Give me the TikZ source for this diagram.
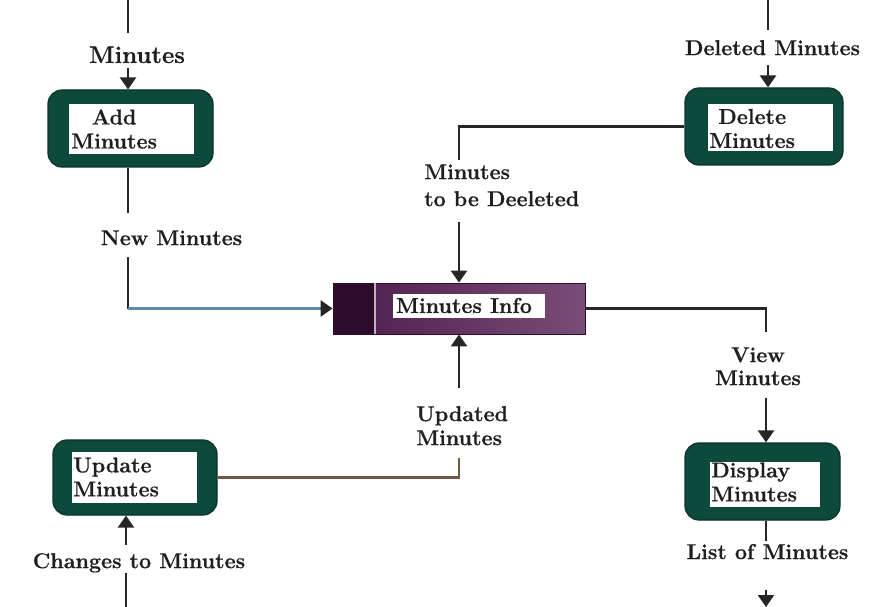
\documentclass[tikz,border=0pt]{standalone}
\usepackage{fontspec}
\setmainfont{Latin Modern Roman}[BoldFeatures={FakeBold=0.6}]
\usetikzlibrary{arrows.meta,calc}

\definecolor{boxgreen}{HTML}{0E4A3C}
\definecolor{boxedge}{HTML}{0A3129}
\definecolor{storeL}{HTML}{2E0D2C}
\definecolor{storeM}{HTML}{4C1C4A}
\definecolor{storeR}{HTML}{7A4C78}
\definecolor{flowline}{HTML}{262626}
\definecolor{flowblue}{HTML}{5E8CAA}
\definecolor{flowtan}{HTML}{6E5A44}

\begin{document}
\begin{tikzpicture}[x=1pt,y=-1pt,
  lbl/.style={font=\fontsize{21.5}{24}\selectfont\bfseries, inner sep=0pt, text=black!88},
  procbox/.style={draw=boxedge, line width=1.2pt, fill=boxgreen, rounded corners=14pt, inner sep=0pt},
  procface/.style={fill=white, inner sep=0pt},
  flow/.style={draw=flowline, line width=2.5pt},
  flowarrow/.style={flow, -{Triangle[length=12pt,width=16pt]}},
]
\useasboundingbox (0,0) rectangle (871,607);
\fill[white] (0,0) rectangle (871,607);

% ---------- processes ----------
\node[procbox, minimum width=165pt, minimum height=77pt] (addM) at (130.5,128.5) {};
\node[procface, minimum width=125pt, minimum height=50pt] (addFace) at (131.5,129) {};
\node[lbl, align=center, anchor=west] (addTxt) at (71,129) {Add\\Minutes};

\node[procbox, minimum width=158pt, minimum height=77pt] (delM) at (764,126.5) {};
\node[procface, minimum width=125pt, minimum height=47pt] (delFace) at (770.5,127.5) {};
\node[lbl, align=center, anchor=west] (delTxt) at (709,128.5) {Delete\\Minutes};

\node[procbox, minimum width=164pt, minimum height=75pt] (updM) at (135,477.5) {};
\node[procface, minimum width=125pt, minimum height=51pt] (updFace) at (134.5,477.5) {};
\node[lbl, align=left, anchor=west] (updTxt) at (73,477) {Update\\Minutes};

\node[procbox, minimum width=155pt, minimum height=77pt] (dispM) at (762.5,481.5) {};
\node[procface, minimum width=110pt, minimum height=45pt] (dispFace) at (765,484.5) {};
\node[lbl, align=left, anchor=west] (dispTxt) at (711,482) {Display\\Minutes};

% ---------- data store ----------
\node[inner sep=0pt, minimum width=252pt, minimum height=51pt,
      left color=storeM, right color=storeR, draw=storeL, line width=0.8pt] (info) at (459,308.5) {};
\fill[storeL] (info.north west) rectangle ($(info.south west)+(42,0)$);
\draw[line width=2pt, draw=storeR!45!white] ($(info.north west)+(42,0)$) -- ($(info.south west)+(42,0)$);
\node[procface, minimum width=152pt, minimum height=24pt] (infoFace) at (469,306) {};
\node[lbl] (infoTxt) at (464,305.5) {Minutes Info};

% ---------- flow labels ----------
\node[lbl, font=\fontsize{24}{28}\selectfont\bfseries] (lblTop) at (137,54.8) {Minutes};
\node[lbl] (lblDel) at (772.5,47.7) {Deleted Minutes};
\node[lbl] (lblNew) at (171.5,237.8) {New Minutes};
\node[lbl, align=left, anchor=west, font=\fontsize{21.5}{27}\selectfont\bfseries] (lblTbd) at (424,185.3) {Minutes\\to be Deeleted};
\node[lbl, align=center, font=\fontsize{21.5}{23}\selectfont\bfseries] (lblView) at (758,366.3) {View\\Minutes};
\node[lbl, align=left, anchor=west] (lblUpd) at (416,425.7) {Updated\\Minutes};
\node[lbl] (lblList) at (767.5,551.6) {List of Minutes};
\node[lbl] (lblChg) at (139,562.8) {Changes to Minutes};

% ---------- free ends ----------
\coordinate (inA) at (128,0);
\coordinate (inD) at (768,0);
\coordinate (inU) at (126,607);
\coordinate (outD) at (766,607);

% ---------- flows ----------
% Minutes -> Add Minutes
\draw[flow, shorten >=13.5pt] (inA) -- (inA |- lblTop.north);
\draw[flowarrow, shorten <=5pt] (inA |- lblTop.south) -- (inA |- addM.north);

% Deleted Minutes -> Delete Minutes
\draw[flow, shorten >=10pt] (inD) -- (inD |- lblDel.north);
\draw[flowarrow, shorten <=10pt] (inD |- lblDel.south) -- (inD |- delM.north);

% Add Minutes -> Minutes Info
\draw[flow, shorten >=17.5pt] (inA |- addM.south) -- (inA |- lblNew.north);
\draw[flow, shorten <=12pt] (inA |- lblNew.south) -- (inA |- info.west);
\draw[draw=flowblue, line width=2.5pt, -{Triangle[length=12pt,width=16pt,color=flowline]}] (inA |- info.west) -- (info.west);

% Delete Minutes -> Minutes Info
\draw[flow, shorten >=4.5pt] (delM.west) -| (info.north |- lblTbd.north);
\draw[flowarrow, shorten <=16pt] (info.north |- lblTbd.south) -- (info.north);

% Minutes Info -> Display Minutes
\draw[flow, shorten >=15.5pt] (info.east) -| (outD |- lblView.north);
\draw[flowarrow, shorten <=13pt] (outD |- lblView.south) -- (outD |- dispM.north);

% Display Minutes -> out
\draw[flow, shorten >=2.5pt] (outD |- dispM.south) -- (outD |- lblList.north);
\draw[flowarrow, shorten <=31pt] (outD |- lblList.south) -- (outD);

% Changes to Minutes -> Update Minutes
\draw[flow] (inU) -- (inU |- lblChg.south);
\draw[flowarrow, shorten <=8pt] (inU |- lblChg.north) -- (inU |- updM.south);

% Update Minutes -> Minutes Info
\draw[draw=flowtan, line width=2.5pt, shorten >=13pt] (updM.east) -| (info.south |- lblUpd.south);
\draw[flowarrow, shorten <=18pt] (info.south |- lblUpd.north) -- (info.south);
\end{tikzpicture}
\end{document}
